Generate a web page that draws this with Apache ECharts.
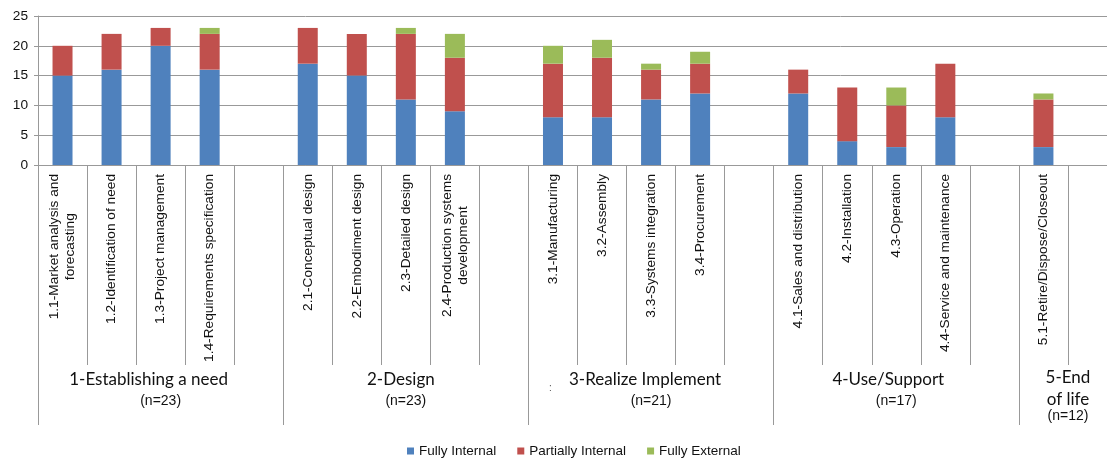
<!DOCTYPE html>
<html><head><meta charset="utf-8">
<script src="https://cdn.jsdelivr.net/npm/echarts@6/dist/echarts.min.js"></script>
<style>html,body{margin:0;padding:0;background:#fff}#c{width:1107px;height:459px}</style>
</head><body><div id="c"></div>
<script>
// ---- data ----
const categories = [
  '1.1-Market analysis and\nforecasting', '1.2-Identification of need', '1.3-Project management', '1.4-Requirements specification', '',
  '2.1-Conceptual design', '2.2-Embodiment design', '2.3-Detailed design', '2.4-Production systems\ndevelopment', '',
  '3.1-Manufacturing', '3.2-Assembly', '3.3-Systems integration', '3.4-Procurement', '',
  '4.1-Sales and distribution', '4.2-Installation', '4.3-Operation', '4.4-Service and maintenance', '',
  '5.1-Retire/Dispose/Closeout', ''
];
const fullyInternal     = [15, 16, 20, 16, null, 17, 15, 11, 9, null, 8, 8, 11, 12, null, 12, 4, 3, 8, null, 3, null];
const partiallyInternal = [5, 6, 3, 6, null, 6, 7, 11, 9, null, 9, 10, 5, 5, null, 4, 9, 7, 9, null, 8, null];
const fullyExternal     = [0, 0, 0, 1, null, 0, 0, 1, 4, null, 3, 3, 1, 2, null, 0, 0, 3, 0, null, 1, null];
const seriesNames = ['Fully Internal', 'Partially Internal', 'Fully External'];
const groupNames = ['1-Establishing a need', '2-Design', '3-Realize Implement', '4-Use/Support', '5-End\nof life'];
const groupCounts = ['(n=23)', '(n=23)', '(n=21)', '(n=17)', '(n=12)'];
const groupStart = [0, 5, 10, 15, 20];
const groupSize = [5, 5, 5, 5, 2];
const yMin = 0, yMax = 25, yStep = 5;

// ---- styling ----
const FONT = '"Liberation Sans", Arial, sans-serif';
const GFONT = 'Lato, "Noto Sans", sans-serif';
const TXT = '#111';
const GRAY = '#999';
const GRID = {left: 38, top: 16, width: 1079, height: 149, outerBoundsMode: 'none', containLabel: false};
const colors = ['#4F81BD', '#C0504D', '#9BBB59'];

const chart = echarts.init(document.getElementById('c'));
const option = {
  animation: false,
  grid: [Object.assign({}, GRID), Object.assign({}, GRID)],
  xAxis: [
    {
      type: 'category', gridIndex: 0, data: categories,
      axisLine: {lineStyle: {color: GRAY}},
      axisTick: {show: true, interval: 0, length: 200, lineStyle: {color: GRAY}},
      axisLabel: {
        interval: 0, rotate: 90, margin: 9, hideOverlap: false,
        formatter: v => v ? v.split('\n').map(s => '{c|' + s + '}').join('\n') : '',
        rich: {c: {align: 'center', fontSize: 13.7, fontFamily: FONT, color: TXT, lineHeight: 16}}
      }
    },
    {
      type: 'category', gridIndex: 1, data: categories,
      axisLine: {show: false},
      axisTick: {show: true, interval: (i) => i % 5 === 0, length: 260, lineStyle: {color: GRAY}},
      axisLabel: {show: false}
    }
  ],
  yAxis: [
    {
      type: 'value', gridIndex: 0, min: yMin, max: yMax, interval: yStep,
      axisLine: {show: true, lineStyle: {color: GRAY}},
      axisTick: {show: true, length: 4, lineStyle: {color: GRAY}},
      axisLabel: {margin: 10, fontSize: 13.7, fontFamily: FONT, color: TXT},
      splitLine: {show: true, lineStyle: {color: GRAY, width: 1}}
    },
    {type: 'value', gridIndex: 1, min: yMin, max: yMax, show: false}
  ],
  legend: {
    left: 402, top: 439, itemWidth: 7, itemHeight: 7, itemGap: 21, icon: 'rect',
    textStyle: {fontSize: 13.5, fontFamily: FONT, color: TXT},
    data: seriesNames
  },
  series: [fullyInternal, partiallyInternal, fullyExternal].map((d, i) => ({
    name: seriesNames[i], type: 'bar', stack: 'total', xAxisIndex: 0, yAxisIndex: 0,
    barWidth: 20, data: d, itemStyle: {color: colors[i]}
  }))
};
chart.setOption(option);

// group labels positioned from the category axis scale
const nameShift = [-12, -5, -6, -8, 0];
const p0 = chart.convertToPixel({xAxisIndex: 0}, 0);
const bw = chart.convertToPixel({xAxisIndex: 0}, 1) - p0;
const elements = [];
groupStart.forEach((s, g) => {
  const left = chart.convertToPixel({xAxisIndex: 0}, s) - bw / 2;
  const cx = left + groupSize[g] * bw / 2;
  const multi = groupNames[g].indexOf('\n') >= 0;
  elements.push({
    type: 'text', x: cx + nameShift[g], y: multi ? 389 : 380,
    style: {text: groupNames[g], fill: TXT, fontSize: 17, fontFamily: GFONT, align: 'center', verticalAlign: 'middle', lineHeight: 22}
  });
  elements.push({
    type: 'text', x: cx, y: multi ? 416 : 401,
    style: {text: groupCounts[g], fill: TXT, fontSize: 14, fontFamily: FONT, align: 'center', verticalAlign: 'middle'}
  });
});
// stray colon mark in group 3 label area
const g3left = chart.convertToPixel({xAxisIndex: 0}, groupStart[2]) - bw / 2;
elements.push({type: 'text', x: g3left + 22, y: 388, style: {text: ':', fill: '#555', fontSize: 10, fontFamily: FONT, align: 'center', verticalAlign: 'middle'}});
chart.setOption({graphic: elements});
</script>
</body></html>
